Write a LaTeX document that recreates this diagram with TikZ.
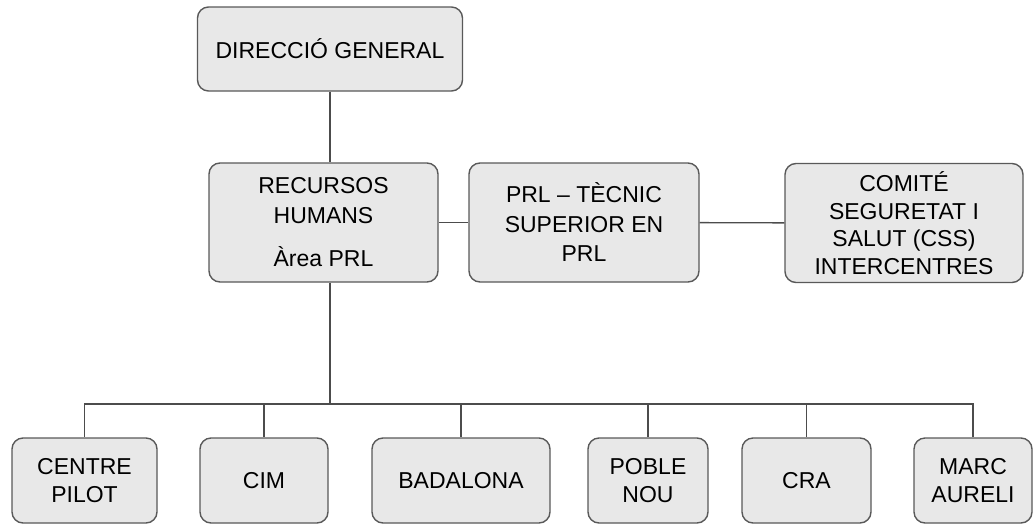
\documentclass[tikz,border=0pt]{standalone}
\usepackage{fontspec}
\setmainfont{Liberation Sans}
\usetikzlibrary{positioning}

\begin{document}
\begin{tikzpicture}[x=0.5pt,y=-0.5pt,line width=0.7pt,draw=black!70]

  \tikzstyle{unit}=[rectangle,rounded corners=5.5pt,draw=black!65,fill=black!9,
                    align=center,inner sep=0pt,text=black,
                    font=\fontsize{11.5}{15}\selectfont]
  \tikzstyle{low}=[unit,minimum height=42.5pt,font=\fontsize{11.5}{14}\selectfont]
  \tikzstyle{mid}=[unit,minimum height=59.5pt]

  \useasboundingbox (0,0) rectangle (1033,525);

  \node[unit,minimum width=132.5pt,minimum height=42pt] (DG) at (330,49) {DIRECCIÓ GENERAL};

  \node[mid,minimum width=114.5pt] (RH)  at (323.5,222.5) {RECURSOS\\HUMANS\\[6.5pt]Àrea PRL};
  \node[mid,minimum width=115pt,font=\fontsize{11.5}{14.75}\selectfont] (PRL) at (584,222.5)
       {PRL – TÈCNIC\\SUPERIOR EN\\PRL};
  \node[mid,minimum width=119pt,font=\fontsize{11.5}{13.8}\selectfont] (CSS) at (904,223)
       {COMITÉ\\SEGURETAT I\\SALUT (CSS)\\INTERCENTRES};

  \node[low,minimum width=72.5pt] (CP)  at (84.5,480.5) {CENTRE\\PILOT};
  \node[low,minimum width=64pt]   (CIM) at (264,480.5) {CIM};
  \node[low,minimum width=89pt]   (BAD) at (461,480.5) {BADALONA};
  \node[low,minimum width=60pt]   (PN)  at (648,480.5) {POBLE\\NOU};
  \node[low,minimum width=64.5pt] (CRA) at (806.5,480.5) {CRA};
  \node[low,minimum width=59pt]   (MA)  at (973,480.5) {MARC\\AURELI};

  \coordinate (hub) at (330,404);

  \draw (DG.south) -- (DG.south |- RH.north);
  \draw (RH) -- (PRL);
  \draw (PRL) -- (CSS);
  \draw (RH.south -| hub) -- (hub);
  \foreach \c in {CP,CIM,BAD,PN,CRA,MA}
    \draw (hub) -| (\c.north);
\end{tikzpicture}
\end{document}
